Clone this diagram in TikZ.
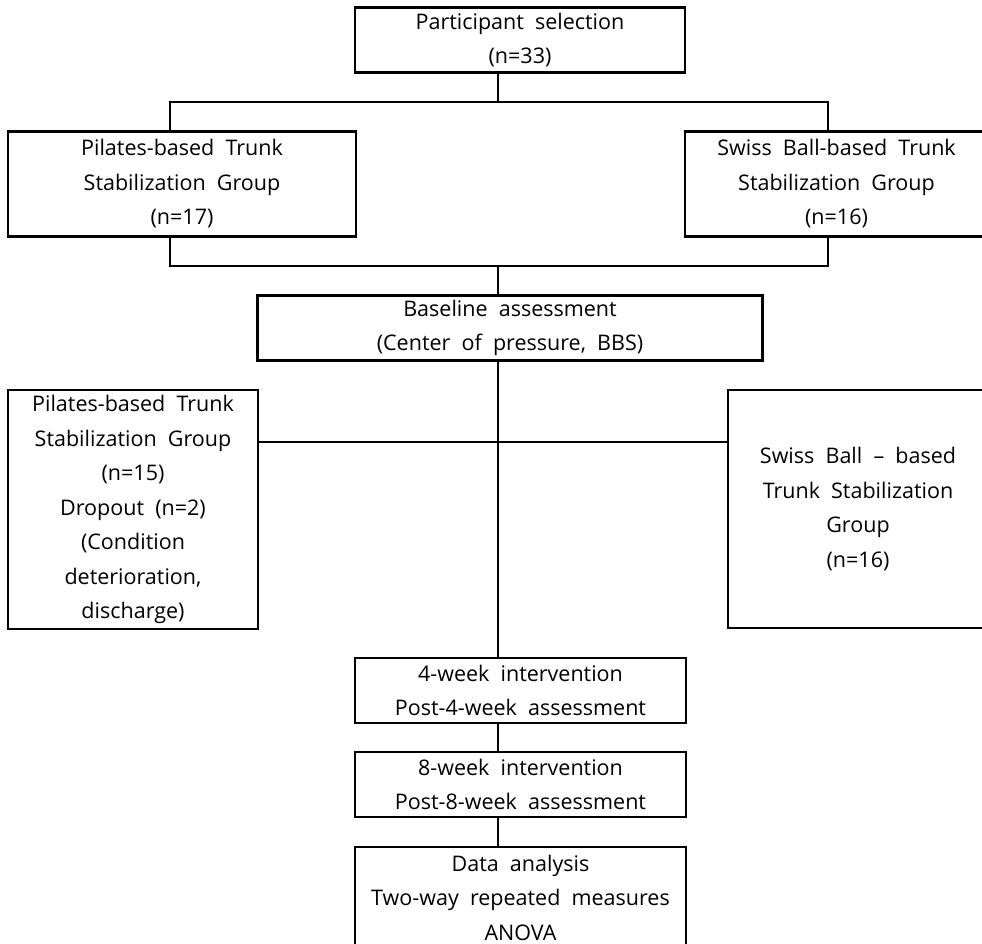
\documentclass[tikz,border=0pt]{standalone}
\usepackage{fontspec}
\setmainfont{Open Sans}[WordSpace=2]
\usepackage{tikz}
\usetikzlibrary{positioning, calc}
\tikzset{
  stage/.style={draw, line width=2.6pt, rectangle, align=center,
                font=\fontsize{21.5}{34.5}\selectfont, inner sep=0pt,
                minimum height=65pt},
  group/.style={stage, minimum height=105pt},
  link/.style={line width=2.4pt, draw=black},
}

\begin{document}
\begin{tikzpicture}[x=1pt, y=-1pt]

  \clip (0,0) rectangle (982,944);

  \node[stage, minimum width=330pt] (select) at (520,40)
    {Participant selection\\(n=33)};

  \node[group, minimum width=348pt] (pilatesA) at (182,184)
    {Pilates-based Trunk\\Stabilization Group\\(n=17)};

  \node[group, minimum width=303pt] (swissA) at (836.5,184)
    {Swiss Ball-based Trunk\\Stabilization Group\\(n=16)};

  \node[stage, minimum width=505pt] (baseline) at (510,328)
    {Baseline assessment\\(Center of pressure, BBS)};

  % groups after baseline
  \node[stage, minimum width=250pt, minimum height=239pt] (pilatesB) at (133,509.5)
    {Pilates-based Trunk\\Stabilization Group\\(n=15)\\Dropout (n=2)\\(Condition\\deterioration,\\discharge)};

  \node[stage, minimum width=260pt, minimum height=238pt] (swissB) at (858,509)
    {Swiss Ball -- based\\Trunk Stabilization\\Group\\(n=16)};

  % follow-up
  \node[stage, minimum width=331pt] (week4) at (520.5,690.5)
    {4-week intervention\\Post-4-week assessment};

  \node[stage, minimum width=331pt] (week8) at (520.5,784.5)
    {8-week intervention\\Post-8-week assessment};

  \node[stage, minimum width=331pt, minimum height=101pt] (analysis) at (520.5,897.5)
    {Data analysis\\Two-way repeated measures\\ANOVA};

  \coordinate (trunk) at (498,0);
  \coordinate (splitL) at (170,102);
  \coordinate (splitR) at (828,102);
  \coordinate (joinL) at (170,266);
  \coordinate (joinR) at (828,266);
  \coordinate (cross) at (498,442);

  % connectors
  \draw[link] (select.south -| trunk) -- (splitL -| trunk);
  \draw[link] (pilatesA.north -| splitL) |- (splitR) -- (swissA.north -| splitR);
  \draw[link] (pilatesA.south -| joinL) |- (joinR) -- (swissA.south -| joinR);
  \draw[link] (joinL -| trunk) -- (baseline.north -| trunk);
  \draw[link] (baseline.south -| trunk) -- (week4.north -| trunk);
  \draw[link] (cross -| pilatesB.east) -- (cross -| swissB.west);
  \draw[link] (week4.south -| trunk) -- (week8.north -| trunk);
  \draw[link] (week8.south -| trunk) -- (analysis.north -| trunk);

\end{tikzpicture}
\end{document}
